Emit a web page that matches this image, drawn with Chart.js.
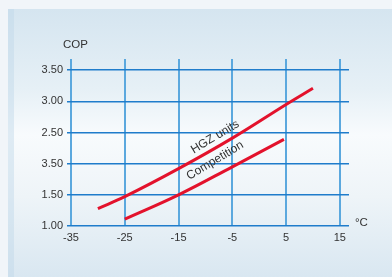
<!DOCTYPE html>
<html>
<head>
<meta charset="utf-8">
<script src="https://cdn.jsdelivr.net/npm/chart.js@4/dist/chart.umd.min.js"></script>
<style>
  html, body { margin: 0; padding: 0; }
  body { width: 392px; height: 277px; background: #f1f5f9; position: relative; overflow: hidden; }
  #panel {
    position: absolute; left: 8px; top: 9px; width: 384px; height: 268px;
    background: linear-gradient(to bottom, #d5e5f0 0%, #e6f0f6 30%, #f8fbfd 47%, #eef4f8 70%, #d9e7f1 100%);
  }
  #edge { position: absolute; left: 8px; top: 9px; width: 6px; height: 268px; background: rgba(190,215,232,0.45); }
  #wrap { position: absolute; left: 0; top: 0; width: 392px; height: 277px; }
</style>
</head>
<body>
<div id="panel"></div>
<div id="edge"></div>
<div id="wrap"><canvas id="lineChart"></canvas></div>
<script>
// temperatures (°C) and COP
var tempsHgz = [-30, -25, -15, -5, 5, 10];
var copHgz = [1.28, 1.47, 1.92, 2.41, 2.95, 3.21];
var tempsComp = [-25, -15, -5, 4.6];
var copComp = [1.11, 1.50, 1.95, 2.39];

var xTicks = [-35, -25, -15, -5, 5, 15];
var yTicks = [1.00, 1.50, 2.00, 2.50, 3.00, 3.50];
var yTickLabels = ['1.00', '1.50', '3.50', '2.50', '3.00', '3.50'];

var font = "'Liberation Sans Narrow', 'Arial Narrow', 'Liberation Sans', Arial, sans-serif";

function toPoints(xs, ys) {
    var pts = [];
    for (let i = 0; i < xs.length; i++) {
        pts.push({ x: xs[i], y: ys[i] });
    }
    return pts;
}

// curve names and axis titles
var textPlugin = {
    id: 'texts',
    afterDatasetsDraw: function (chart) {
        var ctx = chart.ctx;
        var xs = chart.scales.x, ys = chart.scales.y;
        ctx.save();
        ctx.fillStyle = '#333';
        ctx.font = '12px ' + font;
        ctx.textBaseline = 'middle';
        ctx.textAlign = 'center';

        var labels = [
            { text: 'HGZ units', x: -8.2, y: 2.43 },
            { text: 'Competition', x: -8.2, y: 2.05 }
        ];
        labels.forEach(function (l) {
            ctx.save();
            ctx.translate(xs.getPixelForValue(l.x), ys.getPixelForValue(l.y));
            ctx.rotate(-31 * Math.PI / 180);
            ctx.fillText(l.text, 0, 0);
            ctx.restore();
        });

        ctx.font = '11.5px ' + font;
        ctx.textAlign = 'left';
        ctx.fillText('COP', chart.chartArea.left - 8, chart.chartArea.top - 14);
        ctx.fillText('°C', chart.chartArea.right + 6, chart.chartArea.bottom - 3);
        ctx.restore();
    }
};

var lineCanvas = document.getElementById('lineChart').getContext('2d');

new Chart(lineCanvas, {
    type: 'line',
    data: {
        datasets: [{
            label: 'HGZ units',
            data: toPoints(tempsHgz, copHgz),
            borderColor: '#e3122c',
            borderWidth: 3,
            pointRadius: 0,
            tension: 0.4,
            fill: false
        }, {
            label: 'Competition',
            data: toPoints(tempsComp, copComp),
            borderColor: '#e3122c',
            borderWidth: 3,
            pointRadius: 0,
            tension: 0.4,
            fill: false
        }]
    },
    options: {
        responsive: true,
        maintainAspectRatio: false,
        animation: false,
        layout: { padding: { left: 0, top: 59, right: 43, bottom: 31 } },
        plugins: { legend: { display: false }, tooltip: { enabled: false } },
        scales: {
            x: {
                type: 'linear',
                min: -35,
                max: 16.7,
                afterBuildTicks: function (axis) {
                    axis.ticks = xTicks.map(function (v) { return { value: v }; });
                },
                afterFit: function (axis) { axis.height = 20; },
                grid: { color: '#5ba8de', lineWidth: 2, drawTicks: false },
                border: { display: false },
                ticks: {
                    padding: 5,
                    color: '#333',
                    font: { family: font, size: 11 },
                    callback: function (v) { return v; }
                }
            },
            y: {
                type: 'linear',
                min: 1,
                max: 3.68,
                afterBuildTicks: function (axis) {
                    axis.ticks = yTicks.map(function (v) { return { value: v }; });
                },
                afterFit: function (axis) { axis.width = 71; },
                grid: { color: '#1f7ccb', lineWidth: 1.5, tickLength: 4 },
                border: { display: false },
                ticks: {
                    padding: 4,
                    color: '#333',
                    font: { family: font, size: 11 },
                    callback: function (v) {
                        var i = yTicks.indexOf(v);
                        return i >= 0 ? yTickLabels[i] : '';
                    }
                }
            }
        }
    },
    plugins: [textPlugin]
});
</script>
</body>
</html>
